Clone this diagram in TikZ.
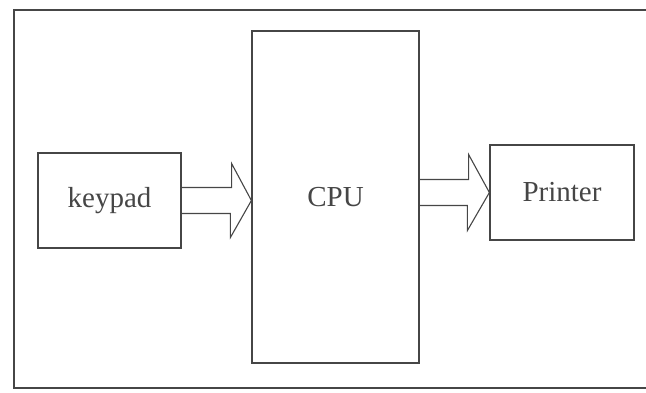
\documentclass[tikz,border=0pt]{standalone}
\usepackage{fontspec}
\setmainfont{Liberation Serif}
\usepackage{tikz}
\usetikzlibrary{calc, positioning}
\definecolor{inkgray}{RGB}{70,70,70}
\tikzstyle{unitbox} = [
  rectangle, draw=inkgray, line width=1.2pt, inner sep=0pt,
  text=inkgray, font=\fontsize{29}{32}\selectfont
]
\tikzstyle{blockarrow} = [draw=inkgray, line width=1.1pt, line join=miter]
\tikzstyle{frame} = [draw=inkgray, line width=1.3pt]

\begin{document}
\begin{tikzpicture}[x=1pt, y=-1pt]

  \useasboundingbox (0, 0) rectangle (646, 392);

  % outer frame, open to the right
  \draw[frame] (646, 10) -- (14, 10) -- (14, 388) -- (646, 388);

  \node[unitbox, minimum width=143pt, minimum height=95pt] (keypad) at (109.5, 200.5) {keypad};
  \node[unitbox, minimum width=167pt, minimum height=332pt] (cpu) at (335.5, 197) {CPU};
  \node[unitbox, minimum width=144pt, minimum height=95pt] (printer) at (562, 192.5) {Printer};

  % hollow block arrows
  \coordinate (kTip) at (cpu.west |- keypad.east);
  \draw[blockarrow] (keypad.east) ++(0, -13) -- ++(50, 0) -- ++(0, -24) -- (kTip)
    -- ++(-21, 37) -- ++(0, -24) -- ++(-50, 0);

  \coordinate (cStart) at (cpu.east |- printer.west);
  \draw[blockarrow] (cStart) ++(0, -13) -- ++(49, 0) -- ++(0, -25) -- (printer.west)
    -- ++(-22, 38) -- ++(0, -25) -- ++(-49, 0);

\end{tikzpicture}
\end{document}
